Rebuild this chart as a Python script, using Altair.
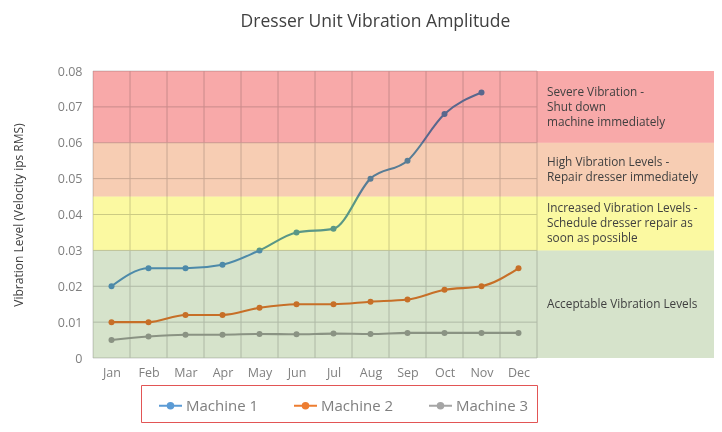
import altair as alt
import pandas as pd

# ---------------- data ----------------
months = ["Jan", "Feb", "Mar", "Apr", "May", "Jun", "Jul", "Aug", "Sep", "Oct", "Nov", "Dec"]
machine1 = [0.020, 0.025, 0.025, 0.026, 0.030, 0.035, 0.036, 0.050, 0.055, 0.068, 0.074, None]
machine2 = [0.010, 0.010, 0.012, 0.012, 0.014, 0.015, 0.015, 0.0157, 0.0163, 0.019, 0.020, 0.025]
machine3 = [0.005, 0.006, 0.0065, 0.0065, 0.0067, 0.0066, 0.0068, 0.0067, 0.007, 0.007, 0.007, 0.007]
series_names = ["Machine 1", "Machine 2", "Machine 3"]
series_colors = ["#5B9BD5", "#ED7D31", "#A5A5A5"]

band_low = [0.0, 0.03, 0.045, 0.06]
band_high = [0.03, 0.045, 0.06, 0.08]
band_colors = ["#D6E3CB", "#FBF9A1", "#F7CDB3", "#F8A9A9"]
band_labels = [
    ["Acceptable Vibration Levels"],
    ["Increased Vibration Levels -", "Schedule dresser repair as", "soon as possible"],
    ["High Vibration Levels -", "Repair dresser immediately"],
    ["Severe Vibration -", "Shut down", "machine immediately"],
]
y_ticks = [0.0, 0.01, 0.02, 0.03, 0.04, 0.05, 0.06, 0.07, 0.08]

# ---------------- layout ----------------
FONT = "Open Sans"
PAD_L, PAD_T, PAD_B = 85, 63, 66
W, H = 621, 287
STEP = 37.0
X_MIN = -0.5
X_MAX = X_MIN + W / STEP
n = len(months)
grid_left, grid_right = -0.5, n - 0.5
LINE_PX = 15
LINE_DATA = LINE_PX * (y_ticks[-1] - y_ticks[0]) / H

# ---------------- tables ----------------
rows = []
for name, vals in zip(series_names, [machine1, machine2, machine3]):
    for i, v in enumerate(vals):
        if v is not None:
            rows.append({"idx": i, "month": months[i], "value": v, "machine": name})
df = pd.DataFrame(rows)

df_bands = pd.DataFrame({
    "lo": band_low, "hi": band_high, "col": band_colors,
    "x0": [X_MIN] * len(band_low), "x1": [X_MAX] * len(band_low),
    "xt": [grid_right] * len(band_low),
    "label": band_labels,
})
df_h = pd.DataFrame({"y": y_ticks, "x0": grid_left, "x1": grid_right})
df_v = pd.DataFrame({"x": [i - 0.5 for i in range(n + 1)], "y0": y_ticks[0], "y1": y_ticks[-1]})

xs = alt.Scale(domain=[X_MIN, X_MAX], nice=False, zero=False)
ys = alt.Scale(domain=[y_ticks[0], y_ticks[-1]], nice=False)

month_expr = "[" + ",".join("'%s'" % m for m in months) + "][datum.value]"

x_axis = alt.Axis(
    values=list(range(n)), labelExpr=month_expr, title=None, grid=False,
    ticks=False, domain=False, labelFont=FONT, labelFontSize=12.5,
    labelColor="#7F7F7F", labelPadding=8, labelOverlap=False,
)
y_axis = alt.Axis(
    values=y_ticks, labelExpr="datum.value == 0 ? '0' : format(datum.value, '.2f')",
    title="Vibration Level (Velocity ips RMS)", grid=False, ticks=False, domain=False,
    labelFont=FONT, labelFontSize=12.5, labelColor="#7F7F7F", labelPadding=11,
    labelOverlap=False,
    titleFont=FONT, titleFontSize=12, titleFontWeight="normal", titleColor="#404040",
    titleX=-68, titleY=H / 2,
)


def X(field):
    return alt.X(field, scale=xs, axis=x_axis)


def Y(field):
    return alt.Y(field, scale=ys, axis=y_axis)


hgrid = alt.Chart(df_h).mark_rule(color="#D0D0D0", strokeWidth=1).encode(
    x=X("x0:Q"), x2="x1:Q", y=Y("y:Q"),
)
vgrid = alt.Chart(df_v).mark_rule(color="#D0D0D0", strokeWidth=1).encode(
    x=X("x:Q"), y=Y("y0:Q"), y2="y1:Q",
)

legend = alt.Legend(
    title=None, orient="none", legendX=48, legendY=314, direction="horizontal",
    symbolType="M-1,0H1M-0.24,0A0.24,0.24 0 1,0 0.24,0A0.24,0.24 0 1,0 -0.24,0",
    symbolSize=529, symbolStrokeWidth=2, symbolOffset=9, labelFont=FONT, labelFontSize=15,
    labelColor="#7F7F7F", labelOffset=3, columnPadding=25, padding=8,
    strokeColor="#E25555", fillColor="white",
)
cscale = alt.Scale(domain=series_names, range=series_colors)

lines = alt.Chart(df).mark_line(interpolate="monotone", strokeWidth=2.1).encode(
    x=X("idx:Q"), y=Y("value:Q"),
    color=alt.Color("machine:N", scale=cscale, legend=legend),
)
points = alt.Chart(df).mark_circle(size=36, opacity=1).encode(
    x=X("idx:Q"), y=Y("value:Q"),
    fill=alt.Fill("machine:N", scale=cscale, legend=legend),
)

bands = alt.Chart(df_bands).mark_rect(blend="multiply").encode(
    x=X("x0:Q"), x2="x1:Q",
    y=Y("lo:Q"), y2="hi:Q",
    fill=alt.Fill("col:N", scale=None),
)
band_text = alt.Chart(df_bands).transform_calculate(
    ty="(datum.lo + datum.hi) / 2 + (length(datum.label) - 1) / 2 * %f" % LINE_DATA
).mark_text(
    align="left", baseline="middle", dx=10, font=FONT, fontSize=11.8,
    color="#404040", lineHeight=LINE_PX,
).encode(
    x=X("xt:Q"), y=Y("ty:Q"), text="label",
)

chart = alt.layer(hgrid, vgrid, lines, points, bands, band_text).properties(
    width=W, height=H,
    title=alt.TitleParams(
        "Dresser Unit Vibration Amplitude", font=FONT, fontSize=17.5,
        fontWeight="normal", color="#404040", anchor="middle", dx=-28,
        frame="group", offset=35,
    ),
    autosize=alt.AutoSizeParams(type="none"),
    padding={"left": PAD_L, "top": PAD_T, "right": 0, "bottom": PAD_B},
).configure_view(stroke=None)

chart.save("out.html", embed_options={"renderer": "svg", "actions": False})
